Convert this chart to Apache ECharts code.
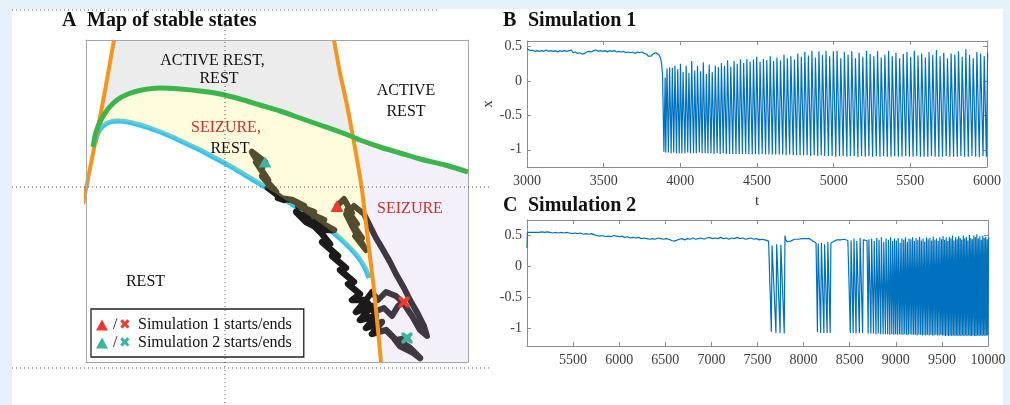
<!DOCTYPE html>
<html><head><meta charset="utf-8">
<script src="https://cdn.jsdelivr.net/npm/echarts@6/dist/echarts.min.js"></script>
<style>
html,body{margin:0;padding:0;background:#e6f2f9;overflow:hidden;}
#bg{position:absolute;left:12px;top:9px;width:991px;height:396px;background:#fff;}
#chart{position:absolute;left:0;top:0;width:1010px;height:405px;}
</style></head><body>
<div id="bg"></div><div id="chart"></div>
<script>
// ---------- Panel A: map of stable states (abstract parameter units) ----------
const orangeLeft = [[28,322],[18,266],[8,214],[-3,158]];
const orangeRight = [[248,322],[254,289],[261,257],[267,225],[272,197],[276,172],[282,122],[288,72],[292,32],[295,0]];
const greenCurve = [[7,215],[10,230],[15,242],[22,253],[31,262],[42,268],[56,272],[74,274],[94,273],[114,271],[134,268],[154,263],[174,257],[194,251],[214,244],[234,237],[254,230],[267,225],[274,222],[294,215],[314,209],[334,203],[359,197],[382,190]];
const blueCurve = [[9,219],[12,229],[17,236],[24,240],[32,241],[42,240],[54,237],[69,232],[84,226],[99,219],[114,212],[129,204],[144,196],[159,187],[174,178],[189,169],[204,159],[219,149],[234,139],[249,128],[262,116],[272,105],[279,94],[283,84]];
const sim1Path = [[251,156],[258,163],[266,149],[261,152],[271,138],[265,140],[276,124],[269,126],[280,112],[274,122],[266,136],[260,148],[268,156],[278,148],[284,136],[290,124],[296,114],[304,100],[310,88],[318,74],[324,62],[332,48],[338,36],[341,26],[334,32],[326,46],[318,58],[310,66],[300,70],[292,62],[286,70],[280,62],[288,50],[298,54],[306,46],[312,56],[318,60]];
const sim2Path = [[179,200],[166,210],[176,194],[170,200],[182,182],[176,186],[190,170],[182,174],[198,162],[192,164],[206,162],[218,156],[212,156],[228,150],[220,150],[238,142],[230,142],[248,132],[240,132],[232,134],[220,144],[210,150],[220,140],[228,136],[236,128],[244,118],[236,120],[252,106],[246,106],[260,94],[254,92],[268,80],[262,78],[274,68],[266,62],[280,62],[270,50],[286,56],[274,42],[290,46],[280,34],[296,40],[286,28],[300,32],[308,24],[314,16],[326,10],[334,4],[324,14],[312,22],[321,24]];
const stateLabelsBlack = [[126.5,301,'ACTIVE REST,'],[133,283,'REST'],[320,271,'ACTIVE'],[320,250,'REST'],[144,213,'REST'],[59.5,80,'REST']];
const stateLabelsRed = [[140,234,'SEIZURE,'],[324,153,'SEIZURE']];
const mapExtentX = [0,382], mapExtentY = [0,322];

// ---------- Panel B: simulation 1 ----------
const sim1Rest = [[3000,0.47],[3008,0.45],[3020,0.44],[3035,0.45],[3050,0.43],[3065,0.44],[3080,0.43],[3095,0.44],[3110,0.43],[3125,0.45],[3140,0.43],[3155,0.44],[3170,0.43],[3185,0.44],[3200,0.42],[3215,0.44],[3230,0.43],[3245,0.44],[3260,0.43],[3275,0.44],[3290,0.45],[3300,0.41],[3315,0.42],[3330,0.40],[3345,0.41],[3360,0.39],[3375,0.40],[3390,0.42],[3405,0.43],[3420,0.42],[3435,0.44],[3450,0.45],[3465,0.43],[3480,0.44],[3495,0.43],[3510,0.44],[3525,0.42],[3540,0.44],[3555,0.43],[3570,0.44],[3585,0.42],[3600,0.43],[3615,0.42],[3630,0.43],[3645,0.41],[3660,0.42],[3675,0.41],[3690,0.42],[3705,0.40],[3720,0.42],[3735,0.41],[3750,0.42],[3765,0.40],[3780,0.39],[3790,0.36],[3800,0.37],[3810,0.36],[3820,0.39],[3830,0.40],[3840,0.41],[3850,0.40],[3860,0.38],[3868,0.35],[3876,0.28],[3884,0.10]];
// [trough time, trough value, following peak value]
const sim1Spikes = [[3893,-1.03,0.05],[3905,-1.04,0.18],[3922,-1.04,0.20],[3940,-1.05,0.19],[3957,-1.04,0.22],[3975,-1.05,0.17],[3993,-1.05,0.25],[4010,-1.05,0.13],[4030,-1.05,0.22],[4048,-1.04,0.12],[4066,-1.05,0.29],[4086,-1.05,0.15],[4104,-1.05,0.22],[4124,-1.04,0.14],[4142,-1.05,0.27],[4162,-1.05,0.10],[4180,-1.05,0.24],[4200,-1.05,0.13],[4220,-1.06,0.22],[4240,-1.05,0.20],[4260,-1.06,0.26],[4280,-1.05,0.22],[4300,-1.06,0.30],[4321,-1.06,0.21],[4342,-1.06,0.29],[4363,-1.06,0.25],[4384,-1.06,0.31],[4405,-1.06,0.26],[4426,-1.06,0.32],[4447,-1.06,0.28],[4469,-1.07,0.31],[4490,-1.06,0.35],[4512,-1.07,0.28],[4534,-1.06,0.32],[4556,-1.07,0.30],[4578,-1.07,0.36],[4600,-1.07,0.29],[4622,-1.07,0.34],[4645,-1.07,0.30],[4668,-1.07,0.38],[4690,-1.08,0.33],[4713,-1.07,0.36],[4736,-1.08,0.31],[4758,-1.08,0.40],[4781,-1.08,0.35],[4804,-1.08,0.42],[4827,-1.08,0.37],[4850,-1.09,0.44],[4873,-1.08,0.34],[4896,-1.09,0.43],[4919,-1.08,0.38],[4942,-1.09,0.44],[4966,-1.09,0.36],[4990,-1.09,0.43],[5014,-1.10,0.44],[5038,-1.09,0.33],[5062,-1.09,0.42],[5086,-1.10,0.38],[5110,-1.09,0.43],[5134,-1.09,0.33],[5158,-1.10,0.41],[5182,-1.09,0.35],[5206,-1.10,0.44],[5230,-1.09,0.39],[5254,-1.10,0.36],[5278,-1.09,0.43],[5302,-1.10,0.34],[5326,-1.09,0.38],[5350,-1.10,0.44],[5374,-1.10,0.36],[5398,-1.09,0.41],[5422,-1.10,0.33],[5446,-1.10,0.39],[5470,-1.09,0.42],[5494,-1.10,0.35],[5518,-1.10,0.44],[5542,-1.09,0.37],[5566,-1.10,0.40],[5590,-1.10,0.34],[5614,-1.10,0.42],[5638,-1.09,0.38],[5662,-1.10,0.45],[5686,-1.10,0.36],[5710,-1.10,0.41],[5734,-1.09,0.33],[5758,-1.10,0.40],[5782,-1.10,0.38],[5806,-1.10,0.43],[5830,-1.09,0.35],[5854,-1.10,0.46],[5878,-1.10,0.38],[5902,-1.09,0.33],[5926,-1.10,0.42],[5950,-1.10,0.40],[5974,-1.09,0.36],[5996,-1.10,0.41]];

// ---------- Panel C: simulation 2 ----------
const sim2Rest0 = [[5000,0.30],[5004,0.55],[5020,0.56],[5040,0.55],[5060,0.56],[5080,0.55],[5100,0.56],[5130,0.55],[5160,0.56],[5190,0.55],[5220,0.56],[5250,0.55],[5280,0.54],[5310,0.55],[5340,0.54],[5370,0.55],[5400,0.54],[5430,0.55],[5460,0.54],[5490,0.53],[5520,0.54],[5550,0.53],[5580,0.54],[5610,0.52],[5640,0.53],[5670,0.52],[5700,0.53],[5730,0.51],[5760,0.50],[5790,0.49],[5820,0.50],[5850,0.48],[5880,0.49],[5910,0.48],[5940,0.50],[5970,0.49],[6000,0.48],[6030,0.49],[6060,0.47],[6090,0.48],[6120,0.46],[6150,0.47],[6180,0.46],[6210,0.47],[6240,0.45],[6270,0.46],[6300,0.45],[6330,0.44],[6360,0.45],[6390,0.44],[6420,0.46],[6450,0.45],[6480,0.44],[6510,0.45],[6540,0.44],[6570,0.42],[6600,0.41],[6620,0.43],[6650,0.44],[6680,0.45],[6710,0.43],[6740,0.45],[6770,0.44],[6800,0.46],[6830,0.44],[6860,0.45],[6890,0.46],[6920,0.44],[6950,0.46],[6980,0.47],[7010,0.45],[7040,0.46],[7070,0.45],[7100,0.47],[7130,0.45],[7160,0.46],[7190,0.44],[7220,0.46],[7250,0.45],[7280,0.47],[7310,0.45],[7340,0.46],[7370,0.44],[7400,0.45],[7430,0.46],[7460,0.44],[7490,0.45],[7520,0.43],[7550,0.44],[7580,0.43],[7600,0.40],[7620,0.41],[7640,0.38]];
const sim2Burst1 = [[7650,-1.05,0.34],[7700,-1.07,0.36],[7745,-1.07,0.35],[7790,-1.08,0.50]];
const sim2Rest1 = [[7805,0.44],[7820,0.40],[7840,0.38],[7860,0.41],[7880,0.40],[7900,0.44],[7920,0.45],[7940,0.44],[7960,0.46],[7980,0.45],[8000,0.46],[8020,0.45],[8040,0.44],[8060,0.45],[8080,0.42],[8100,0.41],[8120,0.40],[8135,0.38]];
const sim2Burst2 = [[8150,-1.06,0.37],[8185,-1.07,0.38],[8220,-1.07,0.36],[8255,-1.07,0.40],[8288,-1.07,0.38]];
const sim2Rest2 = [[8305,0.37],[8320,0.40],[8340,0.41],[8360,0.43],[8380,0.44],[8400,0.43],[8420,0.45],[8440,0.44],[8460,0.43],[8480,0.42],[8495,0.40]];
const sim2Burst3 = [[8507,-1.07,0.42],[8538,-1.07,0.45],[8569,-1.08,0.41],[8605,-1.07,0.46],[8640,-1.07,0.43]];
const sim2Rest3 = [[8665,0.44],[8688,0.42]];
const sim2Burst4 = [[8700,-1.08,0.44],[8730,-1.08,0.45],[8758,-1.08,0.41],[8785,-1.09,0.46],[8810,-1.08,0.43],[8836,-1.09,0.47],[8862,-1.09,0.40],[8887,-1.09,0.45],[8912,-1.09,0.43],[8935,-1.10,0.47],[8957,-1.09,0.41],[8978,-1.10,0.45],[8998,-1.09,0.42],[9018,-1.10,0.46],[9039,-1.09,0.38],[9058,-1.10,0.45],[9078,-1.10,0.43],[9097,-1.09,0.47],[9117,-1.10,0.40],[9136,-1.10,0.45],[9155,-1.09,0.44],[9174,-1.10,0.47],[9193,-1.10,0.41],[9212,-1.10,0.46],[9231,-1.11,0.43],[9250,-1.10,0.48],[9269,-1.10,0.42],[9288,-1.11,0.45],[9306,-1.10,0.40],[9325,-1.11,0.47],[9343,-1.10,0.44],[9362,-1.11,0.46],[9380,-1.10,0.42],[9398,-1.11,0.48],[9416,-1.11,0.43],[9434,-1.10,0.45],[9452,-1.11,0.41],[9470,-1.11,0.47],[9488,-1.10,0.44],[9505,-1.11,0.49],[9522,-1.11,0.43],[9539,-1.12,0.47],[9556,-1.11,0.41],[9573,-1.12,0.48],[9590,-1.11,0.45],[9607,-1.12,0.50],[9624,-1.11,0.42],[9641,-1.12,0.47],[9658,-1.11,0.44],[9674,-1.12,0.49],[9691,-1.11,0.46],[9707,-1.12,0.43],[9724,-1.11,0.50],[9740,-1.12,0.45],[9757,-1.11,0.48],[9773,-1.12,0.42],[9790,-1.11,0.51],[9806,-1.12,0.46],[9822,-1.12,0.44],[9838,-1.11,0.50],[9855,-1.12,0.47],[9871,-1.12,0.52],[9887,-1.11,0.45],[9903,-1.12,0.49],[9919,-1.11,0.43],[9935,-1.12,0.50],[9951,-1.11,0.46],[9967,-1.12,0.48],[9983,-1.11,0.44],[9998,-1.11,0.47]];

const yTicks = [-1, -0.5, 0, 0.5];
const sim1Range = {x:[3000,6000], y:[-1.25,0.58]};
const sim2Range = {x:[5000,10000], y:[-1.28,0.75]};

// ---------- helpers / styles ----------
const FONT = "'Liberation Serif','Times New Roman',serif";
const RISE = 8; // waveform rise time after each trough
const spikes = s => s.flatMap(([t, lo, pk]) => [[t, lo], [t + RISE, pk]]);
const sim1Data = sim1Rest.concat(spikes(sim1Spikes));
const sim2Data = [].concat(sim2Rest0, spikes(sim2Burst1), sim2Rest1, spikes(sim2Burst2), sim2Rest2, spikes(sim2Burst3), sim2Rest3, spikes(sim2Burst4));

const OL = orangeLeft, OR = orangeRight, G = greenCurve, BL = blueCurve;
const grayRegion = [OL[0], ...OR.slice(0,4), ...G.slice(0,17).reverse(), OL[1]];
const yellowRegion = [...G.slice(0,18), ...OR.slice(4,7), ...BL.slice().reverse()];
const lavenderRegion = [...G.slice(17), [mapExtentX[1], mapExtentY[0]], ...OR.slice(3).reverse()];

const CROSS = 'path://M0,0 L2.6,0 L5,2.4 L7.4,0 L10,0 L10,2.6 L7.6,5 L10,7.4 L10,10 L7.4,10 L5,7.6 L2.6,10 L0,10 L0,7.4 L2.4,5 L0,2.6 Z';
const RED = '#ee3b2e', TEAL = '#3bb5a0';

function region(poly, fill, z) {
  return {type:'custom', xAxisIndex:0, yAxisIndex:0, z, silent:true, data:[0], clip:false,
    renderItem:(p, api) => ({type:'polygon', shape:{points: poly.map(pt => api.coord(pt))}, style:{fill}})};
}
function curve(data, color, width, z) {
  return {type:'line', xAxisIndex:0, yAxisIndex:0, data, showSymbol:false, clip:false, smooth:0.25, z, silent:true,
    lineStyle:{color, width, cap:'butt'}};
}
function traj(data, width) {
  return {type:'line', xAxisIndex:0, yAxisIndex:0, data, showSymbol:false, clip:false, z:2, silent:true,
    lineStyle:{color:'#1d1a1b', width, join:'round', cap:'round'}};
}
const frameLine = {lineStyle:{color:'#8c8c8c', width:1}, onZero:false};
function mapAxis(pos, ext) {
  return {type:'value', gridIndex:0, position:pos, min:ext[0], max:ext[1], z:10,
    axisLine:{show:true, onZero:false, lineStyle:{color:'#a6a6a6', width:1}}, axisTick:{show:false}, axisLabel:{show:false}, splitLine:{show:false}};
}
const plain = v => String(v);
function tsX(grid, pos, ext, showLabels, extra) {
  return Object.assign({type:'value', gridIndex:grid, position:pos, min:ext[0], max:ext[1], interval:500,
    axisLine:frameLine, axisTick:{show:true, inside:true, length:4, lineStyle:{color:'#8c8c8c'}},
    axisLabel:{show:showLabels, formatter:plain, fontFamily:FONT, fontSize:14, color:'#3c3c3c', margin:7},
    splitLine:{show:false}}, extra || {});
}
function tsY(grid, pos, ext, showLabels, extra) {
  return Object.assign({type:'value', gridIndex:grid, position:pos, min:ext[0], max:ext[1],
    axisLine:frameLine, axisTick:{show:true, inside:true, length:4, customValues:yTicks, lineStyle:{color:'#8c8c8c'}},
    axisLabel:{show:showLabels, customValues:yTicks, formatter:plain, fontFamily:FONT, fontSize:14, color:'#3c3c3c', margin:5},
    splitLine:{show:false}}, extra || {});
}
const titleRich = {
  l:{width:25, fontFamily:FONT, fontSize:20, fontWeight:'bold', color:'#111'},
  t:{fontFamily:FONT, fontSize:20, fontWeight:'bold', color:'#111'}
};
const dot = {stroke:'#555', lineWidth:1, lineDash:[1,3]};

const chart = echarts.init(document.getElementById('chart'), null, {renderer:'canvas'});
chart.setOption({
  animation:false,
  backgroundColor:'transparent',
  title:[
    {left:62, top:11, padding:0, text:'{l|A}{t|Map of stable states}', textStyle:{rich:titleRich}},
    {left:503, top:11, padding:0, text:'{l|B}{t|Simulation 1}', textStyle:{rich:titleRich}},
    {left:503, top:196, padding:0, text:'{l|C}{t|Simulation 2}', textStyle:{rich:titleRich}}
  ],
  grid:[
    {left:86, top:40, width:382, height:322, show:true, backgroundColor:'#fff', borderWidth:0},
    {left:527, top:41, width:460, height:126},
    {left:527, top:220, width:461, height:126}
  ],
  xAxis:[
    mapAxis('bottom', mapExtentX), mapAxis('top', mapExtentX),
    tsX(1, 'bottom', sim1Range.x, true, {name:'t', nameLocation:'middle', nameGap:27, nameTextStyle:{fontFamily:FONT, fontSize:15, color:'#333'}}),
    tsX(1, 'top', sim1Range.x, false),
    tsX(2, 'bottom', sim2Range.x, true, {axisLabel:{show:true, showMinLabel:false, formatter:plain, fontFamily:FONT, fontSize:14, color:'#3c3c3c', margin:7}}),
    tsX(2, 'top', sim2Range.x, false)
  ],
  yAxis:[
    mapAxis('left', mapExtentY), mapAxis('right', mapExtentY),
    tsY(1, 'left', sim1Range.y, true, {name:'x', nameLocation:'middle', nameGap:31, nameTextStyle:{fontFamily:FONT, fontSize:15, color:'#333'}}),
    tsY(1, 'right', sim1Range.y, false),
    tsY(2, 'left', sim2Range.y, true),
    tsY(2, 'right', sim2Range.y, false)
  ],
  legend:{
    left:91, top:309, orient:'vertical', selectedMode:false, z:20,
    data:[{name:'Simulation 1 starts/ends', icon:'triangle'}, {name:'Simulation 2 starts/ends', icon:'triangle'}],
    itemWidth:12, itemHeight:11, itemGap:0, padding:[7,12,5,5],
    borderColor:'#222', borderWidth:1.3, backgroundColor:'#fff',
    itemStyle:{opacity:1},
    textStyle:{fontFamily:FONT, fontSize:16, color:'#111', lineHeight:18,
      rich:{
        s:{width:6, fontFamily:FONT, fontSize:16, color:'#111'},
        x1:{width:19, align:'left', fontFamily:'DejaVu Sans', fontSize:14, color:RED},
        x2:{width:19, align:'left', fontFamily:'DejaVu Sans', fontSize:14, color:TEAL},
        n:{fontFamily:FONT, fontSize:16, color:'#111'}
      }},
    formatter: name => '{s|/}{' + (name.indexOf('1') > 0 ? 'x1' : 'x2') + '|\u2716}{n|' + name + '}'
  },
  graphic:[
    {type:'line', z:100, silent:true, shape:{x1:12, y1:10, x2:437, y2:10}, style:dot},
    {type:'line', z:100, silent:true, shape:{x1:12, y1:187, x2:490, y2:187}, style:dot},
    {type:'line', z:100, silent:true, shape:{x1:12, y1:368, x2:490, y2:368}, style:dot},
    {type:'line', z:100, silent:true, shape:{x1:225, y1:10, x2:225, y2:405}, style:dot}
  ],
  series:[
    region(grayRegion, '#ececec', 1),
    curve(blueCurve, '#36c1f1', 5, 1),
    traj(sim2Path, 6.5), traj(sim1Path, 6),
    region(yellowRegion, 'rgba(255,240,110,0.24)', 3),
    region(lavenderRegion, 'rgba(200,180,228,0.2)', 3),
    curve(orangeLeft, '#f7941d', 4, 4),
    curve(orangeRight, '#f7941d', 4, 4),
    curve(greenCurve, '#3cb54a', 5, 5),
    {type:'scatter', name:'Simulation 1 starts/ends', xAxisIndex:0, yAxisIndex:0, z:7, silent:true, itemStyle:{color:RED, opacity:1},
      data:[{value:sim1Path[0], symbol:'triangle', symbolSize:[13,12]}, {value:sim1Path[sim1Path.length-1], symbol:CROSS, symbolSize:11}]},
    {type:'scatter', name:'Simulation 2 starts/ends', xAxisIndex:0, yAxisIndex:0, z:7, silent:true, itemStyle:{color:TEAL, opacity:1},
      data:[{value:sim2Path[0], symbol:'triangle', symbolSize:[13,11]}, {value:sim2Path[sim2Path.length-1], symbol:CROSS, symbolSize:11}]},
    {type:'scatter', xAxisIndex:0, yAxisIndex:0, z:8, silent:true, symbolSize:1, itemStyle:{color:'rgba(0,0,0,0)', opacity:1},
      data: stateLabelsBlack.map(d => ({value:[d[0], d[1]], name:d[2]})),
      label:{show:true, position:'inside', opacity:1, formatter:p => p.name, fontFamily:FONT, fontSize:16, color:'#111'}},
    {type:'scatter', xAxisIndex:0, yAxisIndex:0, z:8, silent:true, symbolSize:1, itemStyle:{color:'rgba(0,0,0,0)', opacity:1},
      data: stateLabelsRed.map(d => ({value:[d[0], d[1]], name:d[2]})),
      label:{show:true, position:'inside', opacity:1, formatter:p => p.name, fontFamily:FONT, fontSize:16, color:'#c9302f'}},
    {type:'line', xAxisIndex:2, yAxisIndex:2, data:sim1Data, showSymbol:false, silent:true, lineStyle:{color:'#0072bd', width:1.2}},
    {type:'line', xAxisIndex:4, yAxisIndex:4, data:sim2Data, showSymbol:false, silent:true, lineStyle:{color:'#0072bd', width:1.2}}
  ]
});
</script></body></html>
